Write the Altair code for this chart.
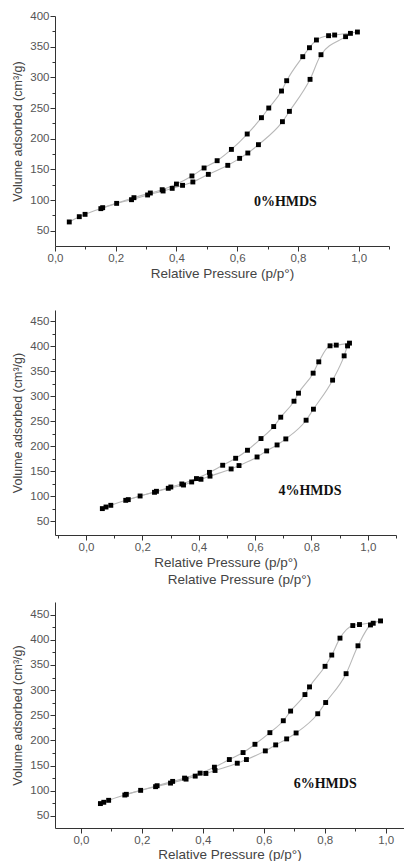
import altair as alt
import pandas as pd

# ---------------- data ----------------
# Panel 1: 0 % HMDS
p1_ads_x = [0.047, 0.080, 0.099, 0.151, 0.203, 0.252, 0.305, 0.356, 0.386, 0.420, 0.454, 0.505,
            0.569, 0.608, 0.635, 0.670, 0.749, 0.772, 0.840, 0.876, 0.957, 0.973, 0.996]
p1_ads_y = [64.2, 72.8, 76.6, 85.9, 94.5, 100.5, 108.2, 114.7, 119.0, 123.9, 129.4, 141.8,
            156.5, 167.9, 176.6, 190.2, 227.7, 244.5, 296.7, 336.9, 366.3, 371.7, 373.9]
p1_des_x = [0.157, 0.260, 0.314, 0.353, 0.400, 0.451, 0.491, 0.534, 0.581, 0.633, 0.680, 0.704,
            0.746, 0.763, 0.816, 0.838, 0.861, 0.901, 0.921]
p1_des_y = [87.5, 103.8, 111.4, 116.8, 126.0, 139.2, 152.2, 164.1, 182.5, 207.6, 234.2, 250.0,
            277.7, 294.5, 333.7, 348.3, 360.9, 367.9, 369.0]

# Panel 2: 4 % HMDS
p2_ads_x = [0.058, 0.071, 0.088, 0.141, 0.192, 0.243, 0.292, 0.346, 0.375, 0.408, 0.440, 0.515,
            0.543, 0.607, 0.641, 0.678, 0.709, 0.781, 0.807, 0.875, 0.916, 0.928, 0.935]
p2_ads_y = [74.9, 78.1, 81.5, 91.5, 100.2, 107.6, 115.6, 122.2, 128.3, 133.7, 140.0, 154.4,
            161.2, 178.4, 190.5, 202.5, 214.6, 252.1, 274.2, 332.4, 381.1, 401.0, 406.6]
p2_des_x = [0.150, 0.250, 0.301, 0.340, 0.392, 0.438, 0.485, 0.531, 0.573, 0.621, 0.666, 0.691,
            0.738, 0.754, 0.806, 0.826, 0.866, 0.888]
p2_des_y = [92.9, 109.6, 118.2, 124.3, 135.1, 147.5, 161.8, 175.8, 191.9, 215.3, 239.4, 258.1,
            290.2, 306.3, 346.4, 369.1, 401.2, 402.6]

# Panel 3: 6 % HMDS
p3_ads_x = [0.064, 0.075, 0.091, 0.144, 0.196, 0.245, 0.294, 0.345, 0.375, 0.410, 0.440, 0.513,
            0.543, 0.605, 0.639, 0.675, 0.706, 0.777, 0.803, 0.870, 0.909, 0.950, 0.959, 0.983]
p3_ads_y = [74.5, 77.1, 81.0, 91.5, 100.8, 108.1, 115.2, 123.1, 129.1, 134.4, 140.3, 154.7,
            162.0, 179.2, 191.1, 203.0, 214.8, 253.0, 275.3, 332.6, 388.0, 429.4, 432.8, 437.4]
p3_des_x = [0.149, 0.250, 0.301, 0.340, 0.391, 0.438, 0.487, 0.532, 0.571, 0.620, 0.664, 0.688,
            0.735, 0.750, 0.801, 0.823, 0.850, 0.892, 0.914]
p3_des_y = [92.9, 110.0, 118.6, 125.1, 135.0, 146.8, 162.0, 175.9, 192.3, 215.4, 239.1, 258.3,
            291.1, 306.3, 347.2, 369.6, 403.2, 428.2, 430.2]

labels = ["0%HMDS", "4%HMDS", "6%HMDS"]
label_x = [0.655, 0.683, 0.698]
label_y = [96, 110, 114]

x_title = "Relative Pressure (p/p°)"
y_title = "Volume adsorbed (cm³/g)"


def branch_frame(ax, ay, dx, dy):
    a = pd.DataFrame({"p": ax, "v": ay, "branch": "adsorption"})
    d = pd.DataFrame({"p": dx, "v": dy, "branch": "desorption"})
    # desorption line ends at the last adsorption point (top right)
    d_line = pd.concat([d, pd.DataFrame({"p": [ax[-1]], "v": [ay[-1]], "branch": ["desorption"]})])
    pts = pd.concat([a, d], ignore_index=True)
    lines = pd.concat([a, d_line], ignore_index=True)
    return pts, lines


def panel(ax, ay, dx, dy, lab, lx, ly, xdom, ydom, w, h, xvals, yvals, dup_title=False,
          x_title_pad=3):
    pts, lines = branch_frame(ax, ay, dx, dy)
    xs = alt.Scale(domain=xdom, nice=False, zero=False)
    ys = alt.Scale(domain=ydom, nice=False, zero=False)
    xaxis = alt.Axis(
        title=x_title, values=xvals, labelOverlap=False, labelFlush=False,
        labelExpr="abs(round(datum.value*10)) % 2 === 0 ? replace(format(datum.value, '.1f'), '.', ',') : ''",
        tickSize={"condition": {"test": "abs(round(datum.value*10)) % 2 === 1", "value": 3}, "value": 5},
        labelPadding=1, titlePadding=x_title_pad,
    )
    yaxis = alt.Axis(
        title=y_title, values=yvals, labelOverlap=False, labelFlush=False,
        labelExpr="datum.value % 50 === 0 ? datum.label : ''",
        tickSize={"condition": {"test": "datum.value % 50 !== 0", "value": 3}, "value": 5},
        labelPadding=1, titlePadding=5,
    )
    X = alt.X("p:Q", scale=xs, axis=xaxis)
    Y = alt.Y("v:Q", scale=ys, axis=yaxis)
    base_line = alt.Chart(lines).mark_line(
        color="#b8b8b8", strokeWidth=1.1, interpolate="monotone"
    ).encode(x=X, y=Y, detail="branch:N", order="p:Q")
    points = alt.Chart(pts).mark_square(size=24, color="black", opacity=1).encode(x=X, y=Y)
    txt = alt.Chart(pd.DataFrame({"t": [lab], "p": [lx], "v": [ly]})).mark_text(
        font="Liberation Serif", fontWeight="bold", fontSize=14, align="left",
        baseline="middle", color="#111"
    ).encode(x=X, y=Y, text="t:N")
    layers = [base_line, points, txt]
    if dup_title:
        # the duplicated axis title that shows below the second panel
        dup = alt.Chart(pd.DataFrame({"t": [x_title]})).mark_text(
            font="Liberation Sans", fontSize=13.5, color="#444", align="center", baseline="middle"
        ).encode(text="t:N", x=alt.value(w / 2 + 14), y=alt.value(h + 45))
        layers.append(dup)
    return alt.layer(*layers).properties(width=w, height=h)


def ticks(lo, hi, step):
    out = []
    v = lo
    while v <= hi + 1e-9:
        out.append(round(v, 3))
        v += step
    return out


c1 = panel(p1_ads_x, p1_ads_y, p1_des_x, p1_des_y, labels[0], label_x[0], label_y[0],
           [0.0, 1.1], [25, 400], 334, 230, ticks(0.0, 1.1, 0.1), ticks(50, 400, 25))
c2 = panel(p2_ads_x, p2_ads_y, p2_des_x, p2_des_y, labels[1], label_x[1], label_y[1],
           [-0.11, 1.10], [22, 473], 341, 225, ticks(-0.1, 1.1, 0.1), ticks(50, 450, 25),
           dup_title=True)
c3 = panel(p3_ads_x, p3_ads_y, p3_des_x, p3_des_y, labels[2], label_x[2], label_y[2],
           [-0.085, 1.06], [26, 475], 349, 226, ticks(0.0, 1.0, 0.1), ticks(50, 450, 25),
           x_title_pad=2)

chart = alt.vconcat(
    alt.vconcat(c1, c2, spacing=30), c3, spacing=15
).properties(
    padding={"left": 3, "top": 2, "right": 0, "bottom": 0}
).configure_view(stroke=None).configure_axis(
    grid=False, domainColor="#333", tickColor="#333", labelColor="#555", titleColor="#444",
    labelFont="Liberation Sans", titleFont="Liberation Sans", labelFontSize=11.5,
    titleFontSize=13, titleFontWeight="normal", domainWidth=1, tickWidth=1,
).configure_axisY(titleFontSize=12.5).configure_axisX(titleFontSize=13.5)

chart.save("out.html", embed_options={"renderer": "svg", "actions": False})
